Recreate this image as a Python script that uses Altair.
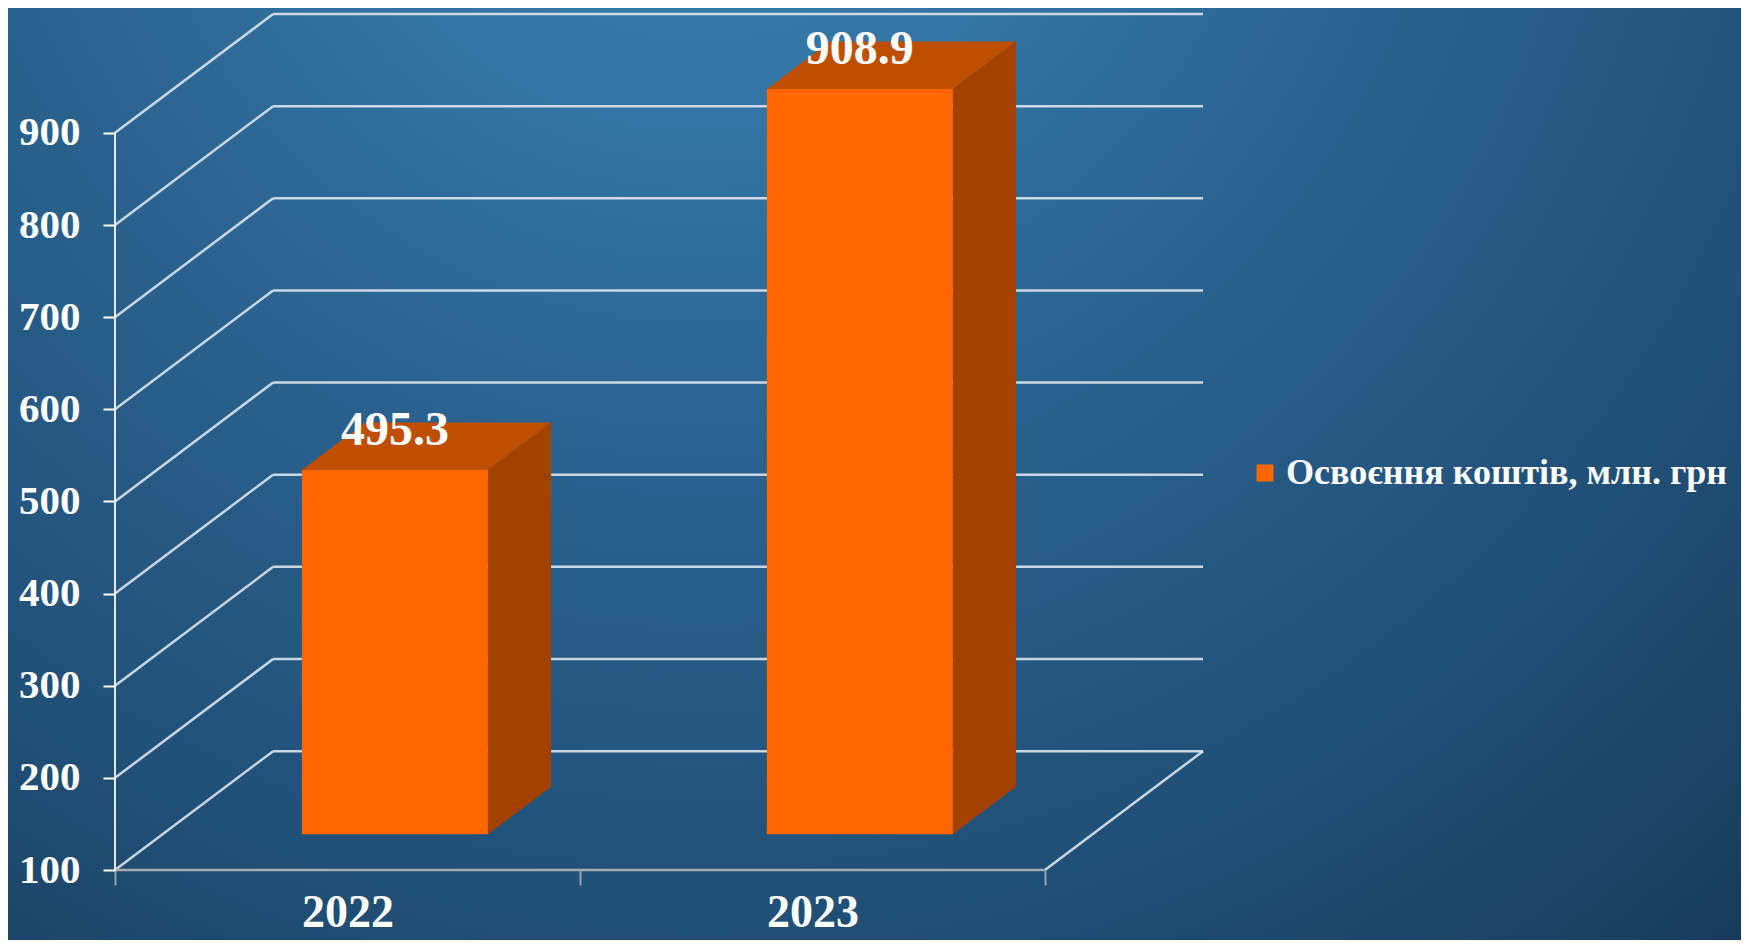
import altair as alt
import pandas as pd

# ---------------- data ----------------
years = ["2022", "2023"]
values = [495.3, 908.9]
y_ticks = [100, 200, 300, 400, 500, 600, 700, 800, 900]
series_name = "Освоєння коштів, млн. грн"

# ---------------- projection / style constants ----------------
Y_MIN = y_ticks[0]
DEPTH_X = 0.34      # depth offset in category units
DEPTH_Y = 129       # depth offset in value units
BAR_W = 0.4
D0, D1 = 0.3, 0.7   # bar depth span
N = len(years)
X_MAX = N + DEPTH_X
Y_MAX = y_ticks[-1] + DEPTH_Y

W, H = 1088, 856
PAD = {"left": 107, "top": 6, "right": 538, "bottom": 70}

FONT = "Liberation Serif"
FRONT, TOP, SIDE = "#FF6600", "#C04E00", "#A34100"
GRID = "#dde6ee"

xs = alt.Scale(domain=[0, X_MAX], nice=False, zero=False)
ys = alt.Scale(domain=[Y_MIN, Y_MAX], nice=False, zero=False)

label_expr = " : ".join(
    [f"datum.value == {i + 0.5} ? '{y}'" for i, y in enumerate(years)]
) + " : ''"

x_axis = alt.Axis(
    values=[i * 0.5 for i in range(2 * N + 1)],
    labelExpr=label_expr,
    domain=False, grid=False, title=None, zindex=1,
    tickSize=15, tickWidth=2,
    tickColor={"condition": {"test": "datum.value % 1 != 0", "value": "transparent"},
               "value": "#9aa3ab"},
    labelFont=FONT, labelFontWeight="bold", labelFontSize=46,
    labelColor="white", labelPadding=5, labelBaseline="top",
)
y_axis = alt.Axis(
    values=y_ticks, domain=False, grid=False, title=None, zindex=1,
    tickSize=12, tickWidth=2, tickColor="white",
    labelFont=FONT, labelFontWeight="bold", labelFontSize=41,
    labelColor="white", labelPadding=23,
)


def X(f):
    return alt.X(f, type="quantitative", scale=xs, axis=x_axis)


def Y(f):
    return alt.Y(f, type="quantitative", scale=ys, axis=y_axis)


# ---------------- background ----------------
bg = alt.Chart(pd.DataFrame({"a": [0]})).mark_rect(
    fill=alt.RadialGradient(
        gradient="radial", x1=0.4, y1=0.08, r1=0, x2=0.4, y2=0.08, r2=1.1,
        stops=[
            alt.GradientStop(offset=0, color="#3b84b8"),
            alt.GradientStop(offset=0.2, color="#3274a3"),
            alt.GradientStop(offset=0.37, color="#2a6390"),
            alt.GradientStop(offset=0.55, color="#23557f"),
            alt.GradientStop(offset=0.75, color="#1b4466"),
            alt.GradientStop(offset=0.9, color="#143452"),
            alt.GradientStop(offset=1, color="#0f2941"),
        ],
    )
).encode(
    x=alt.value(-PAD["left"]), x2=alt.value(W + PAD["right"]),
    y=alt.value(-PAD["top"]), y2=alt.value(H + PAD["bottom"]),
)

# ---------------- walls / gridlines ----------------
seg = []
for v in y_ticks:
    seg.append({"x": 0, "y": v, "x2": DEPTH_X, "y2": v + DEPTH_Y})
    seg.append({"x": DEPTH_X, "y": v + DEPTH_Y, "x2": N + DEPTH_X, "y2": v + DEPTH_Y})
seg.append({"x": N, "y": Y_MIN, "x2": N + DEPTH_X, "y2": Y_MIN + DEPTH_Y})
grid = alt.Chart(pd.DataFrame(seg)).mark_rule(
    color=GRID, strokeWidth=2.5, opacity=0.9
).encode(x=X("x"), y=Y("y"), x2="x2", y2="y2")

floor_front = alt.Chart(pd.DataFrame([{"x": 0, "x2": N, "y": Y_MIN}])).mark_rule(
    color="#a4abb2", strokeWidth=2.5
).encode(x=X("x"), x2="x2", y=Y("y"))

y_line = alt.Chart(pd.DataFrame([{"x": 0, "y": Y_MIN, "y2": y_ticks[-1]}])).mark_rule(
    color="#e4eaef", strokeWidth=2
).encode(x=X("x"), y=Y("y"), y2="y2")

# ---------------- bars ----------------
front_rows, side_rows, top_rows, lab_rows = [], [], [], []
for i, (yr, v) in enumerate(zip(years, values)):
    xl = i + (1 - BAR_W) / 2
    xr = xl + BAR_W
    front_rows.append({
        "year": yr, "series": series_name,
        "x": xl + D0 * DEPTH_X, "x2": xr + D0 * DEPTH_X,
        "y": Y_MIN + D0 * DEPTH_Y, "y2": v + D0 * DEPTH_Y,
    })
    for d in (D0, D1):
        side_rows.append({"year": yr, "x": xr + d * DEPTH_X,
                          "lo": Y_MIN + d * DEPTH_Y, "hi": v + d * DEPTH_Y})
        top_rows.append({"year": yr, "y": v + d * DEPTH_Y,
                         "xa": xl + d * DEPTH_X, "xb": xr + d * DEPTH_X})
    lab_rows.append({"year": yr, "label": f"{v:.1f}",
                     "x": i + 0.5 + D0 * DEPTH_X, "y": v + 0.5 * DEPTH_Y})

side = alt.Chart(pd.DataFrame(side_rows)).mark_area(
    color=SIDE, opacity=1, orient="vertical"
).encode(x=X("x"), y=Y("hi"), y2="lo", detail="year:N")

top = alt.Chart(pd.DataFrame(top_rows)).mark_area(
    color=TOP, opacity=1, orient="horizontal"
).encode(y=Y("y"), x=X("xa"), x2="xb", detail="year:N")

front = alt.Chart(pd.DataFrame(front_rows)).mark_rect(opacity=1).encode(
    x=X("x"), x2="x2", y=Y("y"), y2="y2",
    color=alt.Color(
        "series:N",
        scale=alt.Scale(domain=[series_name], range=[FRONT]),
        legend=alt.Legend(
            orient="none", legendX=1132, legendY=441, title=None,
            symbolType="square", symbolSize=289, symbolStrokeWidth=0,
            symbolOpacity=1, padding=0, labelOffset=3,
            labelFont=FONT, labelFontWeight="bold", labelFontSize=36,
            labelColor="white", labelLimit=0,
        ),
    ),
)

labels = alt.Chart(pd.DataFrame(lab_rows)).mark_text(
    font=FONT, fontWeight="bold", fontSize=48, color="white",
    baseline="middle", align="center", dy=-15,
).encode(x=X("x"), y=Y("y"), text="label:N")

chart = alt.layer(
    bg, grid, floor_front, y_line, side, top, front, labels
).properties(
    width=W, height=H,
    autosize=alt.AutoSizeParams(type="none"),
    padding=PAD,
).configure(background="#1b4262").configure_view(stroke=None)

chart.save("out.html", embed_options={"renderer": "svg", "actions": False})
